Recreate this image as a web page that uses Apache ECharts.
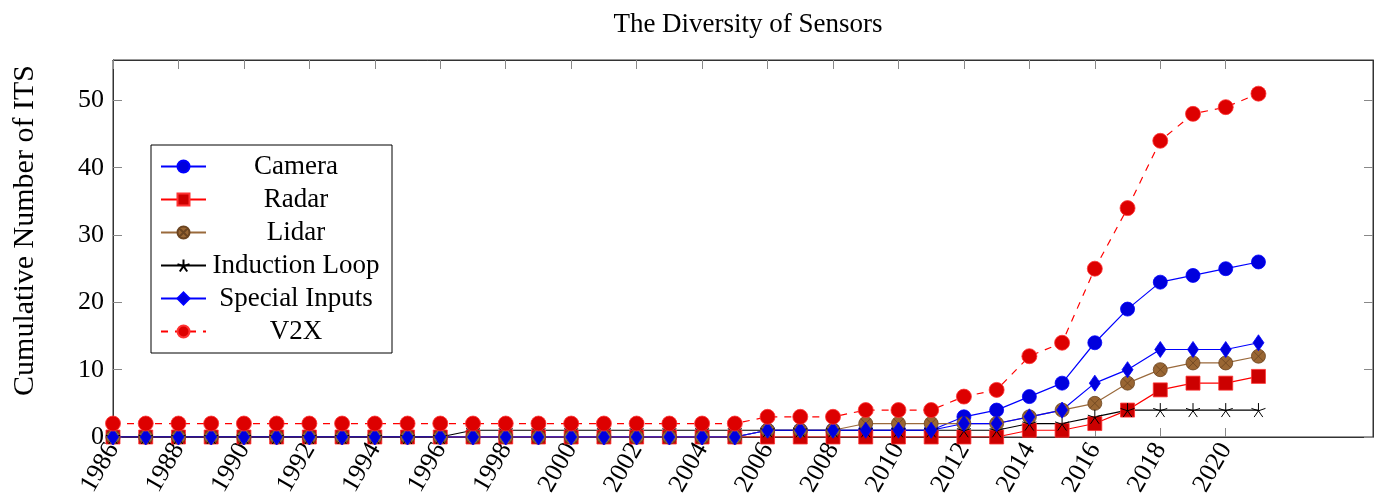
<!DOCTYPE html>
<html>
<head>
<meta charset="utf-8">
<script src="https://cdn.jsdelivr.net/npm/echarts@6/dist/echarts.min.js"></script>
<style>
html,body{margin:0;padding:0;background:#fff;}
#chart{width:1379px;height:504px;}
</style>
</head>
<body>
<div id="chart"></div>
<script>
const years = [1986,1987,1988,1989,1990,1991,1992,1993,1994,1995,1996,1997,1998,1999,2000,2001,2002,2003,2004,2005,2006,2007,2008,2009,2010,2011,2012,2013,2014,2015,2016,2017,2018,2019,2020,2021];
const camera    = [0,0,0,0,0,0,0,0,0,0,0,0,0,0,0,0,0,0,0,0,1,1,1,1,1,1,3,4,6,8,14,19,23,24,25,26];
const radar     = [0,0,0,0,0,0,0,0,0,0,0,0,0,0,0,0,0,0,0,0,0,0,0,0,0,0,0,0,1,1,2,4,7,8,8,9];
const lidar     = [0,0,0,0,0,0,0,0,0,0,0,0,0,0,0,0,0,0,0,0,1,1,1,2,2,2,2,2,3,4,5,8,10,11,11,12];
const induction = [0,0,0,0,0,0,0,0,0,0,0,1,1,1,1,1,1,1,1,1,1,1,1,1,1,1,1,1,2,2,3,4,4,4,4,4];
const special   = [0,0,0,0,0,0,0,0,0,0,0,0,0,0,0,0,0,0,0,0,1,1,1,1,1,1,2,2,3,4,8,10,13,13,13,14];
const v2x       = [2,2,2,2,2,2,2,2,2,2,2,2,2,2,2,2,2,2,2,2,3,3,3,4,4,4,6,7,12,14,25,34,44,48,49,51];
const xTicks = [1986,1988,1990,1992,1994,1996,1998,2000,2002,2004,2006,2008,2010,2012,2014,2016,2018,2020];
const yTicks = [0,10,20,30,40,50];
const seriesNames = ['Camera','Radar','Lidar','Induction Loop','Special Inputs','V2X'];

const FONT = 'Liberation Serif';
const pair = arr => years.map((y, i) => [y, arr[i]]);

const starPath = 'path://M10 0 L10 10 M0.49 6.91 L10 10 M19.51 6.91 L10 10 M4.12 18.09 L10 10 M15.88 18.09 L10 10';
const otimesPath = 'path://M20 10 A10 10 0 1 1 0 10 A10 10 0 1 1 20 10 Z M2.93 2.93 L17.07 17.07 M17.07 2.93 L2.93 17.07';

const chart = echarts.init(document.getElementById('chart'), null, {renderer: 'canvas'});

const tickStyle = {show: true, inside: true, length: 9, customValues: xTicks, lineStyle: {color: '#888', width: 1}};
const ytickStyle = {show: true, inside: true, length: 9, customValues: yTicks, lineStyle: {color: '#888', width: 1}};

chart.setOption({
  animation: false,
  backgroundColor: '#fff',
  title: {
    text: 'The Diversity of Sensors',
    left: 743, top: 6, textAlign: 'center',
    textStyle: {fontFamily: FONT, fontSize: 27, fontWeight: 'normal', color: '#000'}
  },
  grid: {left: 113, right: 6, top: 60, bottom: 67, show: true, borderColor: '#333', borderWidth: 1},
  legend: {
    left: 151, top: 145,
    orient: 'vertical',
    padding: [8, 11, 8, 9],
    itemGap: 6,
    itemWidth: 45, itemHeight: 15,
    backgroundColor: '#fff',
    borderColor: '#000', borderWidth: 1, borderRadius: 0,
    data: seriesNames,
    formatter: name => '{c|' + name + '}',
    textStyle: {
      fontFamily: FONT, fontSize: 27, color: '#000', lineHeight: 25,
      rich: {c: {fontFamily: FONT, fontSize: 27, width: 170, align: 'center', lineHeight: 25, color: '#000'}}
    }
  },
  xAxis: [{
    type: 'value', min: 1986, max: 2024.5, interval: 2,
    position: 'bottom',
    axisLine: {show: true, onZero: false, lineStyle: {color: '#333', width: 1}},
    axisTick: tickStyle,
    axisLabel: {show: true, customValues: xTicks, rotate: 60, margin: 8, fontFamily: FONT, fontSize: 26, color: '#000',
      formatter: v => (v <= 2020 ? String(v) : '')},
    splitLine: {show: false}
  }, {
    type: 'value', min: 1986, max: 2024.5, interval: 2,
    position: 'top',
    axisLine: {show: true, onZero: false, lineStyle: {color: '#333', width: 1}},
    axisTick: tickStyle,
    axisLabel: {show: false},
    splitLine: {show: false}
  }],
  yAxis: [{
    type: 'value', min: 0, max: 56, interval: 10,
    position: 'left',
    name: 'Cumulative Number of ITS',
    nameLocation: 'middle', nameGap: 73, nameRotate: 90,
    nameTextStyle: {fontFamily: FONT, fontSize: 30, color: '#000', padding: [0, 0, 0, 36]},
    axisLine: {show: true, onZero: false, lineStyle: {color: '#333', width: 1}},
    axisTick: ytickStyle,
    axisLabel: {show: true, customValues: yTicks, margin: 9, fontFamily: FONT, fontSize: 26, color: '#000',
      formatter: v => (v <= 50 ? String(v) : '')},
    splitLine: {show: false}
  }, {
    type: 'value', min: 0, max: 56, interval: 10,
    position: 'right',
    axisLine: {show: true, onZero: false, lineStyle: {color: '#333', width: 1}},
    axisTick: ytickStyle,
    axisLabel: {show: false},
    splitLine: {show: false}
  }],
  series: [
    {
      name: 'Camera', type: 'line', data: pair(camera),
      symbol: 'circle', symbolSize: 14, color: '#0000ff',
      lineStyle: {color: '#0000ff', width: 1.2},
      itemStyle: {color: '#0000dd', borderColor: '#0000ff', borderWidth: 0.8}
    },
    {
      name: 'Radar', type: 'line', data: pair(radar),
      symbol: 'rect', symbolSize: 14, color: '#ff0000',
      lineStyle: {color: '#ff0000', width: 1.2},
      itemStyle: {color: '#cc0000', borderColor: '#ff3333', borderWidth: 0.8}
    },
    {
      name: 'Lidar', type: 'line', data: pair(lidar),
      symbol: otimesPath, symbolSize: 14, color: '#bf8040',
      lineStyle: {color: '#9a6a3c', width: 1.2},
      itemStyle: {color: '#996633', borderColor: '#6b4420', borderWidth: 0.8}
    },
    {
      name: 'Induction Loop', type: 'line', data: pair(induction),
      symbol: starPath, symbolSize: 14, color: '#000',
      lineStyle: {color: '#000', width: 1.2},
      itemStyle: {color: 'rgba(0,0,0,0)', borderColor: '#000', borderWidth: 1}
    },
    {
      name: 'Special Inputs', type: 'line', data: pair(special),
      symbol: 'diamond', symbolSize: [11, 16], color: '#0000ff',
      lineStyle: {color: '#0000ff', width: 1.2},
      itemStyle: {color: '#0000dd', borderColor: '#0000ff', borderWidth: 0.8}
    },
    {
      name: 'V2X', type: 'line', data: pair(v2x),
      symbol: 'circle', symbolSize: 15, color: '#ff0000',
      lineStyle: {color: '#ff0000', width: 1.2, type: [7, 7]},
      itemStyle: {color: '#dd0000', borderColor: '#ff3333', borderWidth: 0.8}
    }
  ]
});
</script>
</body>
</html>
